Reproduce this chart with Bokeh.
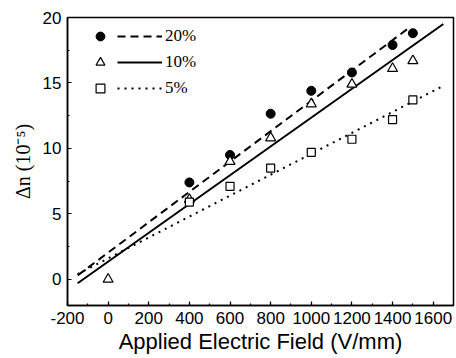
from bokeh.plotting import figure
from bokeh.models import (Range1d, SingleIntervalTicker, Legend, LegendItem,
                          PrintfTickFormatter)
from bokeh.embed import file_html
from bokeh.resources import INLINE
from bokeh.core.properties import value

# ---- data ----
p20_x = [400, 600, 800, 1000, 1200, 1400, 1500]
p20_y = [7.4, 9.5, 12.65, 14.4, 15.8, 17.9, 18.8]

p10_x = [0, 400, 600, 800, 1000, 1200, 1400, 1500]
p10_y = [0.0, 6.1, 9.0, 10.8, 13.4, 14.9, 16.1, 16.7]

p5_x = [400, 600, 800, 1000, 1200, 1400, 1500]
p5_y = [5.9, 7.1, 8.5, 9.7, 10.7, 12.2, 13.7]

# linear-fit lines (end points)
fit20_x = [-150, 1480]
fit20_y = [0.3, 19.2]
fit10_x = [-150, 1650]
fit10_y = [-0.3, 19.5]
fit5_x = [-150, 1640]
fit5_y = [0.4, 14.7]

labels = ["20%", "10%", "5%"]

SANS = "Liberation Sans"
SERIF = "Liberation Serif"

p = figure(width=456, height=358, output_backend="svg", toolbar_location=None,
           x_range=Range1d(-200, 1700), y_range=Range1d(-2, 20),
           min_border_left=67, min_border_right=3, min_border_top=17,
           min_border_bottom=53)

p.xgrid.visible = False
p.ygrid.visible = False
p.outline_line_color = "black"
p.outline_line_width = 1.5
p.background_fill_color = "white"
p.border_fill_color = "white"

p.xaxis.ticker = SingleIntervalTicker(interval=200, num_minor_ticks=2)
p.yaxis.ticker = SingleIntervalTicker(interval=5, num_minor_ticks=2)
p.xaxis.formatter = PrintfTickFormatter(format="%d")
p.yaxis.formatter = PrintfTickFormatter(format="%d")

for ax in (p.xaxis[0], p.yaxis[0]):
    ax.axis_line_color = "black"
    ax.axis_line_width = 1.5
    ax.major_tick_in = 4
    ax.major_tick_out = 0
    ax.minor_tick_in = 2
    ax.minor_tick_out = 0
    ax.major_tick_line_width = 1.2
    ax.minor_tick_line_width = 1.2
    ax.major_label_text_font = SANS
    ax.major_label_text_font_size = "17px"
    ax.major_label_text_color = "black"
    ax.major_label_standoff = 6
    ax.axis_label_text_color = "black"
    ax.axis_label_text_font_style = "normal"

p.xaxis.axis_label = "Applied Electric Field (V/mm)"
p.xaxis.axis_label_text_font = SANS
p.xaxis.axis_label_text_font_size = "22px"
p.xaxis.axis_label_standoff = 2

p.yaxis.axis_label = "Δn (10⁻⁵)"
p.yaxis.axis_label_text_font = SERIF
p.yaxis.axis_label_text_font_size = "20px"
p.yaxis.axis_label_standoff = 6

# fit lines
l20 = p.line(fit20_x, fit20_y, line_color="black", line_width=2, line_dash="8 5")
l10 = p.line(fit10_x, fit10_y, line_color="black", line_width=2)
l5 = p.line(fit5_x, fit5_y, line_color="black", line_width=2, line_dash="2 5")

# data points
s20 = p.scatter(p20_x, p20_y, marker="circle", size=9, fill_color="black",
                line_color="black")
s10 = p.scatter(p10_x, p10_y, marker="triangle", size=10, fill_color="white",
                line_color="black", line_width=1.2)
s5 = p.scatter(p5_x, p5_y, marker="square", size=8, fill_color="white",
               line_color="black", line_width=1.2)

common = dict(padding=0, margin=0, border_line_alpha=0, background_fill_alpha=0,
              glyph_height=22, label_height=22, spacing=4)

leg_markers = Legend(items=[LegendItem(label=value(""), renderers=[s20]),
                            LegendItem(label=value(""), renderers=[s10]),
                            LegendItem(label=value(""), renderers=[s5])],
                     location=(22, 206), glyph_width=22, label_width=0,
                     label_standoff=0, label_text_font_size="1px", **common)

leg_lines = Legend(items=[LegendItem(label=value(labels[0]), renderers=[l20]),
                          LegendItem(label=value(labels[1]), renderers=[l10]),
                          LegendItem(label=value(labels[2]), renderers=[l5])],
                   location=(50, 206), glyph_width=45, label_standoff=3,
                   label_text_font=SERIF, label_text_font_size="17px",
                   label_text_color="black", **common)

p.add_layout(leg_markers)
p.add_layout(leg_lines)

open("out.html", "w").write(file_html(p, INLINE))
